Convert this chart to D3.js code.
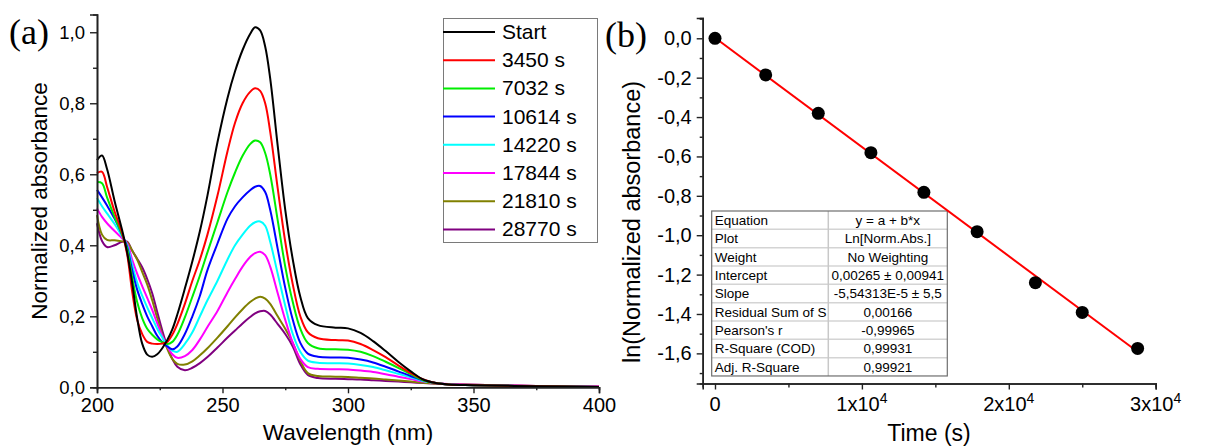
<!DOCTYPE html>
<html>
<head>
<meta charset="utf-8">
<script src="https://cdn.jsdelivr.net/npm/d3@7"></script>
<style>
  body { margin: 0; background: #fff; }
  svg { display: block; font-family: "Liberation Sans", Arial, sans-serif; }
</style>
</head>
<body>
<script>
// wavelength grid (nm) shared by every spectrum
var wavelengths = [200,202,204,207,210,212,214,216,218,220,222,224,226,228,230,232,235,238,241,244,248,252,255,258,261,263,265,267,269,272,275,278,281,284,288,295,300,305,310,315,320,325,330,335,340,350,375,400];

var seriesNames = ["Start","3450 s","7032 s","10614 s","14220 s","17844 s","21810 s","28770 s"];
var seriesColors = ["#000000","#ff0000","#00ee00","#0000ff","#00ffff","#ff00ff","#808000","#800080"];

var absStart = [.640,.653,.615,.525,.443,.38,.295,.195,.123,.092,.086,.093,.11,.133,.163,.205,.278,.355,.44,.54,.69,.815,.89,.95,.995,1.014,1.005,.96,.87,.68,.5,.36,.255,.195,.175,.168,.166,.153,.13,.102,.072,.045,.022,.012,.008,.006,.003,.001];
var abs3450 = [.603,.607,.565,.495,.435,.375,.27,.19,.15,.128,.123,.122,.123,.128,.148,.178,.235,.3,.36,.43,.54,.665,.745,.8,.832,.842,.835,.8,.72,.56,.41,.29,.2,.155,.138,.133,.132,.122,.105,.085,.062,.04,.022,.012,.008,.006,.003,.001];
var abs7032 = [.578,.575,.535,.48,.43,.39,.31,.24,.195,.165,.148,.135,.127,.122,.128,.148,.197,.255,.315,.38,.465,.55,.605,.652,.685,.695,.69,.66,.6,.47,.34,.24,.165,.125,.11,.107,.106,.1,.088,.072,.055,.037,.02,.012,.008,.006,.003,.001];
var abs10614 = [.556,.535,.512,.475,.43,.395,.33,.275,.235,.2,.172,.145,.127,.115,.107,.115,.15,.2,.258,.33,.405,.475,.51,.535,.555,.565,.567,.55,.5,.39,.28,.19,.125,.095,.086,.084,.083,.078,.07,.058,.045,.032,.02,.012,.008,.006,.003,.001];
var abs14220 = [.533,.51,.49,.46,.425,.4,.345,.295,.258,.225,.195,.165,.14,.118,.103,.1,.122,.155,.2,.245,.3,.36,.4,.43,.455,.465,.467,.455,.41,.32,.23,.15,.1,.075,.069,.068,.067,.063,.057,.048,.038,.028,.018,.012,.008,.006,.003,.001];
var abs17844 = [.504,.48,.462,.44,.42,.405,.36,.32,.285,.252,.218,.18,.145,.115,.093,.083,.088,.105,.135,.17,.215,.268,.305,.34,.367,.378,.382,.372,.34,.265,.19,.125,.08,.057,.052,.051,.05,.047,.043,.037,.03,.023,.016,.012,.009,.007,.004,.002];
var abs21810 = [.485,.43,.415,.414,.411,.408,.385,.36,.325,.29,.245,.195,.148,.108,.08,.066,.064,.073,.09,.11,.14,.172,.197,.22,.24,.25,.255,.25,.235,.2,.165,.125,.075,.04,.032,.03,.029,.027,.025,.022,.019,.016,.013,.011,.009,.007,.004,.002];
var abs28770 = [.462,.412,.395,.4,.41,.41,.385,.362,.338,.305,.265,.212,.16,.115,.08,.058,.048,.055,.068,.085,.112,.14,.16,.18,.198,.208,.214,.215,.205,.178,.15,.115,.065,.035,.026,.024,.023,.022,.02,.018,.016,.014,.012,.01,.009,.007,.004,.002];

var spectra = [absStart, abs3450, abs7032, abs10614, abs14220, abs17844, abs21810, abs28770];

// panel (b): kinetics
var times = [0,3450,7032,10614,14220,17844,21810,25000,28770];
var lnAbs = [0,-0.186,-0.381,-0.581,-0.782,-0.982,-1.241,-1.392,-1.575];
var fitA = 0.00265, fitB = -5.54313e-5;

var tableRows = [
  ["Equation","y = a + b*x"],
  ["Plot","Ln[Norm.Abs.]"],
  ["Weight","No Weighting"],
  ["Intercept","0,00265 \u00b1 0,00941"],
  ["Slope","-5,54313E-5 \u00b1 5,5"],
  ["Residual Sum of S","0,00166"],
  ["Pearson's r","-0,99965"],
  ["R-Square (COD)","0,99931"],
  ["Adj. R-Square","0,99921"]
];

var fmtComma = function(d){ return d3.format(".1f")(d).replace(".", ",").replace("\u2212","-"); };

var svg = d3.select("body").append("svg")
    .attr("width", 1205)
    .attr("height", 446);

drawSpectra();
drawKinetics();

function drawSpectra(){
    var x = d3.scaleLinear().domain([200, 400]).range([97, 599]);
    var y = d3.scaleLinear().domain([0, 1.05]).range([387.3, 14.5]);
    var g = svg.append("g");

    var line = d3.line()
        .x(function(d, i){ return x(wavelengths[i]); })
        .y(function(d){ return y(d); })
        .curve(d3.curveCatmullRom.alpha(0.5));

    // draw later series first so black stays on top
    for (var k = spectra.length - 1; k >= 0; k--) {
        g.append("path")
            .datum(spectra[k])
            .attr("d", line)
            .attr("fill", "none")
            .attr("stroke", seriesColors[k])
            .attr("stroke-width", 2);
    }

    // axes
    var xAxis = d3.axisBottom(x).tickValues([200,250,300,350,400]).tickSize(6).tickPadding(5).tickFormat(d3.format("d"));
    var xMinor = d3.axisBottom(x).tickValues([225,275,325,375]).tickSize(3).tickFormat("");
    var yAxis = d3.axisLeft(y).tickValues([0,0.2,0.4,0.6,0.8,1.0]).tickSize(7).tickPadding(5).tickFormat(fmtComma);
    var yMinor = d3.axisLeft(y).tickValues([0.1,0.3,0.5,0.7,0.9]).tickSize(4).tickFormat("");

    var gx = g.append("g").attr("transform", "translate(0,387.3)").call(xAxis);
    g.append("g").attr("transform", "translate(0,387.3)").call(xMinor);
    var gy = g.append("g").attr("transform", "translate(97,0)").call(yAxis);
    g.append("g").attr("transform", "translate(97,0)").call(yMinor);
    gx.selectAll("text").attr("font-size", 20).attr("font-family", "Liberation Sans, Arial");
    gy.selectAll("text").attr("font-size", 18.5).attr("font-family", "Liberation Sans, Arial");
    styleAxes(g);

    // axis titles
    g.append("text")
        .attr("x", 348).attr("y", 440)
        .attr("text-anchor", "middle")
        .attr("font-size", 22.5)
        .text("Wavelength (nm)");
    g.append("text")
        .attr("transform", "translate(47,201) rotate(-90)")
        .attr("text-anchor", "middle")
        .attr("font-size", 22.5)
        .text("Normalized absorbance");

    g.append("text")
        .attr("x", 9).attr("y", 44)
        .attr("font-family", "Liberation Serif, Times New Roman, serif")
        .attr("font-size", 36)
        .text("(a)");

    // legend
    var lg = g.append("g");
    lg.append("rect")
        .attr("x", 443.5).attr("y", 18.5)
        .attr("width", 154).attr("height", 224)
        .attr("fill", "#fff")
        .attr("stroke", "#7a7a7a")
        .attr("stroke-width", 1);
    seriesNames.forEach(function(name, i){
        var yy = 32 + i * 28.2;
        lg.append("line")
            .attr("x1", 443).attr("x2", 495)
            .attr("y1", yy).attr("y2", yy)
            .attr("stroke", seriesColors[i])
            .attr("stroke-width", 2);
        lg.append("text")
            .attr("x", 502).attr("y", yy + 7)
            .attr("font-size", 21)
            .text(name);
    });
}

function drawKinetics(){
    var x = d3.scaleLinear().domain([-837, 30000]).range([702.7, 1155.7]);
    var y = d3.scaleLinear().domain([-1.753, 0.103]).range([383.5, 18]);
    var g = svg.append("g");

    var xAxis = d3.axisBottom(x).tickValues([0,10000,20000,30000]).tickSize(6).tickFormat("");
    var xMinor = d3.axisBottom(x).tickValues([5000,15000,25000]).tickSize(4).tickFormat("");
    var yAxis = d3.axisLeft(y).tickValues(d3.range(0, -1.61, -0.2)).tickSize(6).tickPadding(5).tickFormat(fmtComma);
    var yMinor = d3.axisLeft(y).tickValues([0.1,-0.1,-0.3,-0.5,-0.7,-0.9,-1.1,-1.3,-1.5,-1.7]).tickSize(3).tickFormat("");

    g.append("g").attr("transform", "translate(0,383.5)").call(xAxis);
    g.append("g").attr("transform", "translate(0,383.5)").call(xMinor);
    var gy = g.append("g").attr("transform", "translate(702.7,0)").call(yAxis);
    g.append("g").attr("transform", "translate(702.7,0)").call(yMinor);
    gy.selectAll("text").attr("font-size", 20).attr("font-family", "Liberation Sans, Arial");
    styleAxes(g);

    // x tick labels with superscript exponent
    [0,10000,20000,30000].forEach(function(v){
        var t = g.append("text")
            .attr("x", x(v)).attr("y", 411)
            .attr("text-anchor", "middle")
            .attr("font-size", 20);
        if (v === 0) { t.text("0"); return; }
        t.append("tspan").text((v / 10000) + "x10");
        t.append("tspan").attr("dy", -8).attr("font-size", 14).text("4");
    });

    g.append("text")
        .attr("x", 929).attr("y", 441)
        .attr("text-anchor", "middle")
        .attr("font-size", 23)
        .text("Time (s)");
    g.append("text")
        .attr("transform", "translate(640,222) rotate(-90)")
        .attr("text-anchor", "middle")
        .attr("font-size", 23.5)
        .text("ln(Normalized absorbance)");
    g.append("text")
        .attr("x", 605).attr("y", 47)
        .attr("font-family", "Liberation Serif, Times New Roman, serif")
        .attr("font-size", 36)
        .text("(b)");

    // fit table
    var tx = 711.7, ty = 211, tw = 235.6, rh = 18.33, split = 828.3;
    var tg = g.append("g");
    tg.append("rect")
        .attr("x", tx).attr("y", ty)
        .attr("width", tw).attr("height", rh * tableRows.length)
        .attr("fill", "#fff");
    tableRows.forEach(function(row, i){
        if (i > 0) {
            tg.append("line")
                .attr("x1", tx).attr("x2", tx + tw)
                .attr("y1", ty + i * rh).attr("y2", ty + i * rh)
                .attr("stroke", "#d4d4d4").attr("stroke-width", 1.5);
        }
        tg.append("text")
            .attr("x", tx + 3).attr("y", ty + i * rh + 14)
            .attr("font-size", 13.5)
            .text(row[0]);
        tg.append("text")
            .attr("x", (split + tx + tw) / 2).attr("y", ty + i * rh + 14)
            .attr("text-anchor", "middle")
            .attr("font-size", 13.5)
            .text(row[1]);
    });
    tg.append("line")
        .attr("x1", split).attr("x2", split)
        .attr("y1", ty).attr("y2", ty + rh * tableRows.length)
        .attr("stroke", "#c8c8c8").attr("stroke-width", 1.5);
    tg.append("rect")
        .attr("x", tx).attr("y", ty)
        .attr("width", tw).attr("height", rh * tableRows.length)
        .attr("fill", "none")
        .attr("stroke", "#6e6e6e").attr("stroke-width", 1.2);

    // fitted line
    g.append("line")
        .attr("x1", x(times[0])).attr("y1", y(fitA + fitB * times[0]))
        .attr("x2", x(times[times.length - 1])).attr("y2", y(fitA + fitB * times[times.length - 1]))
        .attr("stroke", "#ff0000")
        .attr("stroke-width", 2);

    g.selectAll("circle.pt")
        .data(times)
        .enter()
        .append("circle")
        .attr("class", "pt")
        .attr("cx", function(d){ return x(d); })
        .attr("cy", function(d, i){ return y(lnAbs[i]); })
        .attr("r", 6.5)
        .attr("fill", "#000");
}

function styleAxes(g){
    g.selectAll(".domain").attr("stroke", "#222").attr("stroke-width", 1.6);
    g.selectAll(".tick line").attr("stroke", "#222").attr("stroke-width", 1.4);
    g.selectAll(".tick text").attr("fill", "#000");
}
</script>
</body>
</html>
